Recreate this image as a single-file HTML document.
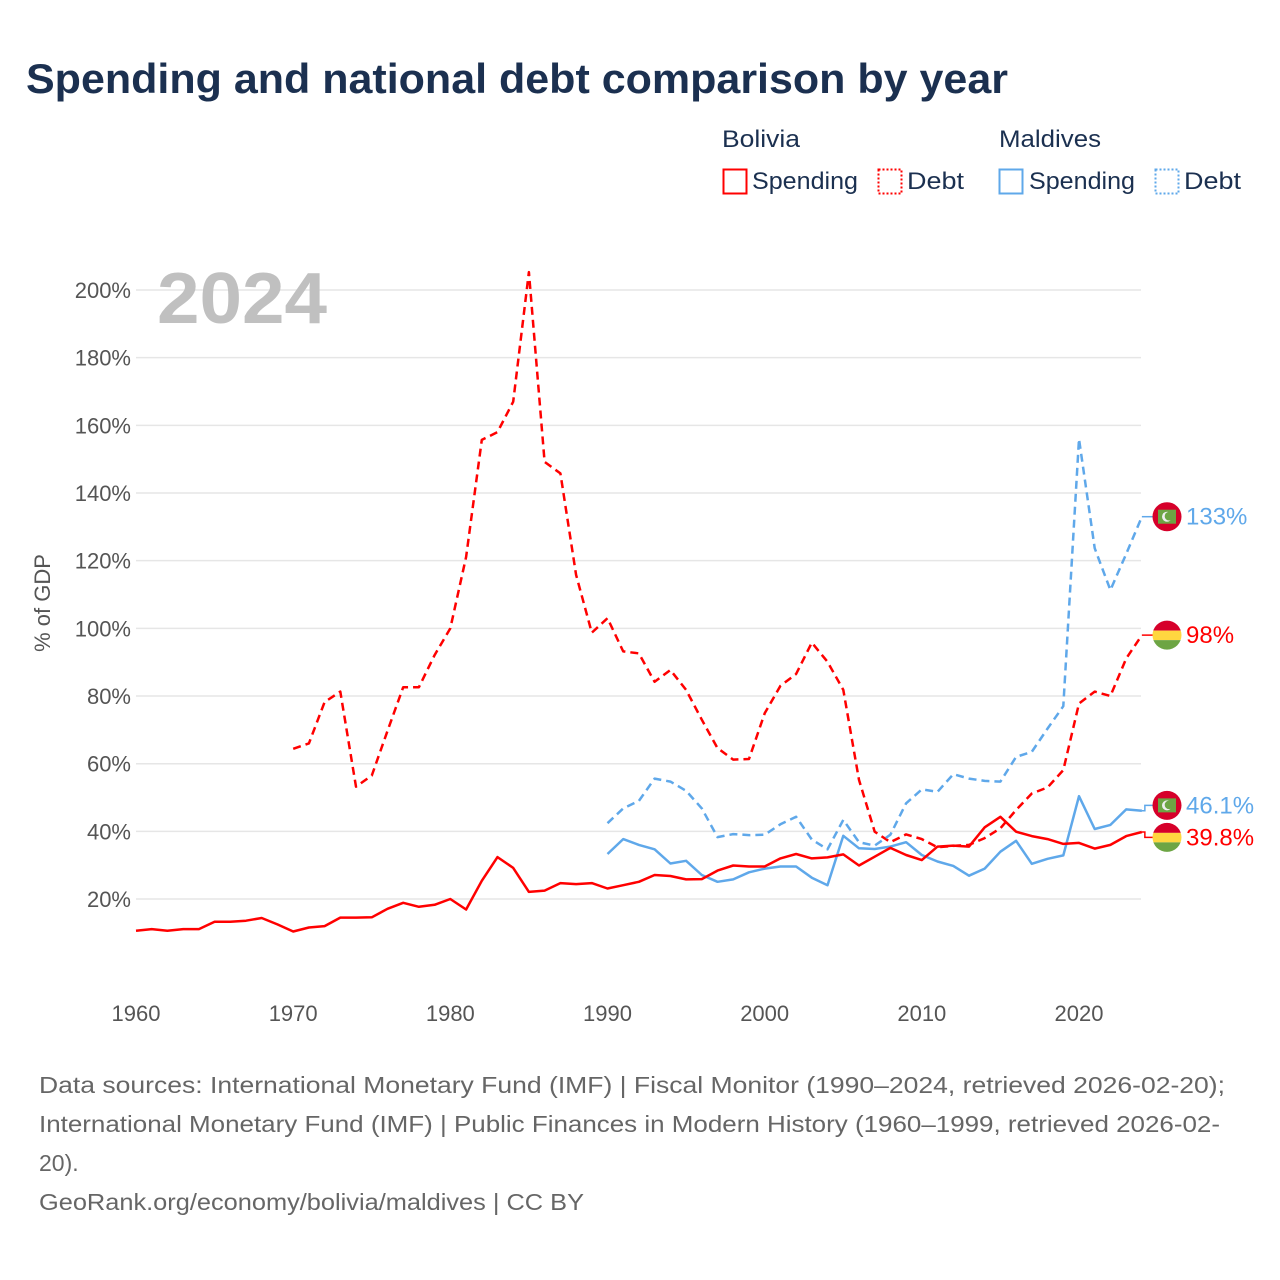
<!DOCTYPE html>
<html><head><meta charset="utf-8">
<style>
html,body{margin:0;padding:0;background:#fff;}
svg{display:block;font-family:"Liberation Sans",sans-serif;}
</style></head>
<body>
<svg id="chart" width="1280" height="1280" viewBox="0 0 1280 1280" xmlns="http://www.w3.org/2000/svg">
<text x="26" y="93" font-size="42" font-weight="bold" fill="#1b3050" textLength="982" lengthAdjust="spacingAndGlyphs">Spending and national debt comparison by year</text>
<g fill="#1b3050" font-size="24">
<text x="722" y="147" textLength="78" lengthAdjust="spacingAndGlyphs">Bolivia</text>
<text x="999" y="147" textLength="102" lengthAdjust="spacingAndGlyphs">Maldives</text>
<g><rect x="723.5" y="169.5" width="23" height="24" fill="none" stroke="#ff0000" stroke-width="2"/><text x="752" y="189" textLength="106" lengthAdjust="spacingAndGlyphs">Spending</text></g>
<g><rect x="878.5" y="169.5" width="23" height="24" fill="none" stroke="#ff0000" stroke-width="2" stroke-dasharray="2 2"/><text x="907" y="189" textLength="57" lengthAdjust="spacingAndGlyphs">Debt</text></g>
<g><rect x="999.5" y="169.5" width="23" height="24" fill="none" stroke="#5fa8ea" stroke-width="2"/><text x="1029" y="189" textLength="106" lengthAdjust="spacingAndGlyphs">Spending</text></g>
<g><rect x="1155.5" y="169.5" width="23" height="24" fill="none" stroke="#5fa8ea" stroke-width="2" stroke-dasharray="2 2"/><text x="1184" y="189" textLength="57" lengthAdjust="spacingAndGlyphs">Debt</text></g>
</g>
<g id="grid"></g>
<g id="yticks" font-size="22" fill="#555" text-anchor="end"></g>
<g id="xticks" font-size="22" fill="#555" text-anchor="middle"></g>
<text transform="translate(50,603) rotate(-90)" text-anchor="middle" font-size="22" fill="#555">% of GDP</text>
<text x="157" y="323" font-size="72" font-weight="bold" fill="#c0c0c0" textLength="170" lengthAdjust="spacingAndGlyphs">2024</text>
<g id="series"></g>
<g id="labels"></g>
<g font-size="23" fill="#666">
<text x="39" y="1093" textLength="1186" lengthAdjust="spacingAndGlyphs">Data sources: International Monetary Fund (IMF) | Fiscal Monitor (1990–2024, retrieved 2026-02-20);</text>
<text x="39" y="1132" textLength="1181" lengthAdjust="spacingAndGlyphs">International Monetary Fund (IMF) | Public Finances in Modern History (1960–1999, retrieved 2026-02-</text>
<text x="39" y="1171">20).</text>
<text x="39" y="1210" textLength="545" lengthAdjust="spacingAndGlyphs">GeoRank.org/economy/bolivia/maldives | CC BY</text>
</g>
</svg>
<script>
const yTicks = [20,40,60,80,100,120,140,160,180,200];
const xTicks = [1960,1970,1980,1990,2000,2010,2020];
const bolSpendYears = [1960,2024];
const bolSpending = [10.6,11.1,10.6,11.1,11.1,13.3,13.3,13.6,14.4,12.5,10.4,11.6,12,14.5,14.5,14.6,17.1,18.9,17.7,18.3,20,16.9,25.4,32.4,29.2,22.1,22.5,24.7,24.4,24.7,
23.1,24.1,25.1,27.1,26.8,25.8,25.9,28.4,29.9,29.6,29.6,32,33.3,32,32.3,33.2,29.9,32.5,35.1,33,31.5,35.5,35.8,35.5,41.2,44.3,39.9,38.6,37.7,36.3,36.6,34.9,36,38.6,39.8];
const bolDebtStart = 1970;
const bolDebt = [64.4,66,78.2,81.3,53.2,56.5,69.7,82.6,82.6,92.1,100,121.1,155.7,158,167,205.3,149.2,145.8,115.8,98.7,
103,93.2,92.6,84.2,87.7,81.8,73,64.6,61.2,61.4,74.9,83,86.5,95.8,90.1,81.8,55.2,39.9,36.8,39.1,37.7,35.3,35.7,36,38,40.9,46.3,51.2,53,58.1,77.8,81.3,80,91.1,98];
const mdvStart = 1990;
const mdvSpending = [33.3,37.7,36,34.7,30.5,31.3,27.1,25.1,25.8,27.9,29,29.6,29.6,26.3,24.1,38.7,35,34.8,35.5,36.8,33,31.1,29.8,26.9,29,34,37.2,30.4,31.9,32.9,50.4,40.7,41.9,46.5,46.1];
const mdvDebt = [42.4,46.8,49,55.6,54.7,52,46.8,38.3,39.2,38.9,39,42.1,44.3,37.6,34.7,43.4,36.8,35.8,39,48.3,52.4,51.7,56.9,55.6,54.9,54.7,62,63.5,70.4,77,156,123.7,111.3,122,133];
const endLabels = ["133%","98%","46.1%","39.8%"];

const NS="http://www.w3.org/2000/svg";
const X = yr => 136 + (yr-1960)*(943/60);
const Y = v => 966.7 - v*3.3835;
function mk(tag, attrs, parent){const e=document.createElementNS(NS,tag);for(const k in attrs)e.setAttribute(k,attrs[k]);parent.appendChild(e);return e;}
const grid=document.getElementById('grid'), yt=document.getElementById('yticks'), xt=document.getElementById('xticks');
yTicks.forEach(v=>{
  const l=mk('line',{x1:136,x2:1141,y1:Y(v),y2:Y(v),stroke:'#e6e6e6','stroke-width':1.5},grid);
  
  
  const t=mk('text',{x:131,y:Y(v)+8},yt); t.textContent=v+'%';
  
  
});
xTicks.forEach(y=>{
  const t=mk('text',{x:X(y),y:1021},xt); t.textContent=y;
  
  
});
const ser=document.getElementById('series');
function line(start, vals, color, dashed, name){
  const d=vals.map((v,i)=>(i?'L':'M')+X(start+i).toFixed(1)+','+Y(v).toFixed(1)).join(' ');
  const p=mk('path',{d:d,fill:'none',stroke:color,'stroke-width':2.5,'stroke-linejoin':'round'},ser);
  if(dashed)p.setAttribute('stroke-dasharray','8 5');
  
  
}
line(bolDebtStart,bolDebt,'#ff0000',true,'line-bolivia-debt');
line(mdvStart,mdvDebt,'#5fa8ea',true,'line-maldives-debt');
line(mdvStart,mdvSpending,'#5fa8ea',false,'line-maldives-spending');
line(bolSpendYears[0],bolSpending,'#ff0000',false,'line-bolivia-spending');

const lab=document.getElementById('labels');
const ends=[
 {v:mdvDebt[mdvDebt.length-1],c:'#5fa8ea',f:'mdv',n:'maldives-debt'},
 {v:bolDebt[bolDebt.length-1],c:'#ff0000',f:'bol',n:'bolivia-debt'},
 {v:mdvSpending[mdvSpending.length-1],c:'#5fa8ea',f:'mdv',n:'maldives-spending'},
 {v:bolSpending[bolSpending.length-1],c:'#ff0000',f:'bol',n:'bolivia-spending'}];
const ys=ends.map(e=>Y(e.v));
if(ys[3]-ys[2]<32){const m=(ys[2]+ys[3])/2;ys[2]=m-16;ys[3]=m+16;}
ends.forEach((e,i)=>{
  const g=mk('g',{},lab);
  
  
  const x0=X(2024), cy=ys[i];
  mk('path',{d:`M${x0},${Y(e.v)} H${x0+3} V${cy} H1153`,fill:'none',stroke:e.c,'stroke-width':1.5},g);
  const cx=1167;
  if(e.f==='bol'){
    const cp=mk('clipPath',{id:'cp'+i},g); mk('circle',{cx:cx,cy:cy,r:14.5},cp);
    const f=mk('g',{'clip-path':`url(#cp${i})`},g);
    mk('rect',{x:cx-15,y:cy-15,width:30,height:10.5,fill:'#d6002a'},f);
    mk('rect',{x:cx-15,y:cy-4.5,width:30,height:9.5,fill:'#ffd740'},f);
    mk('rect',{x:cx-15,y:cy+5,width:30,height:10.5,fill:'#6da544'},f);
  } else {
    mk('circle',{cx:cx,cy:cy,r:14.5,fill:'#d6002a'},g);
    mk('rect',{x:cx-9,y:cy-7,width:18,height:14,fill:'#6da544'},g);
    mk('circle',{cx:cx,cy:cy,r:5,fill:'#eee'},g);
    mk('circle',{cx:cx+2,cy:cy-0.5,r:4.3,fill:'#6da544'},g);
  }
  const t=mk('text',{x:1186,y:cy+8,'font-size':24,fill:e.c},g); t.textContent=endLabels[i];
});
</script>
</body></html>
